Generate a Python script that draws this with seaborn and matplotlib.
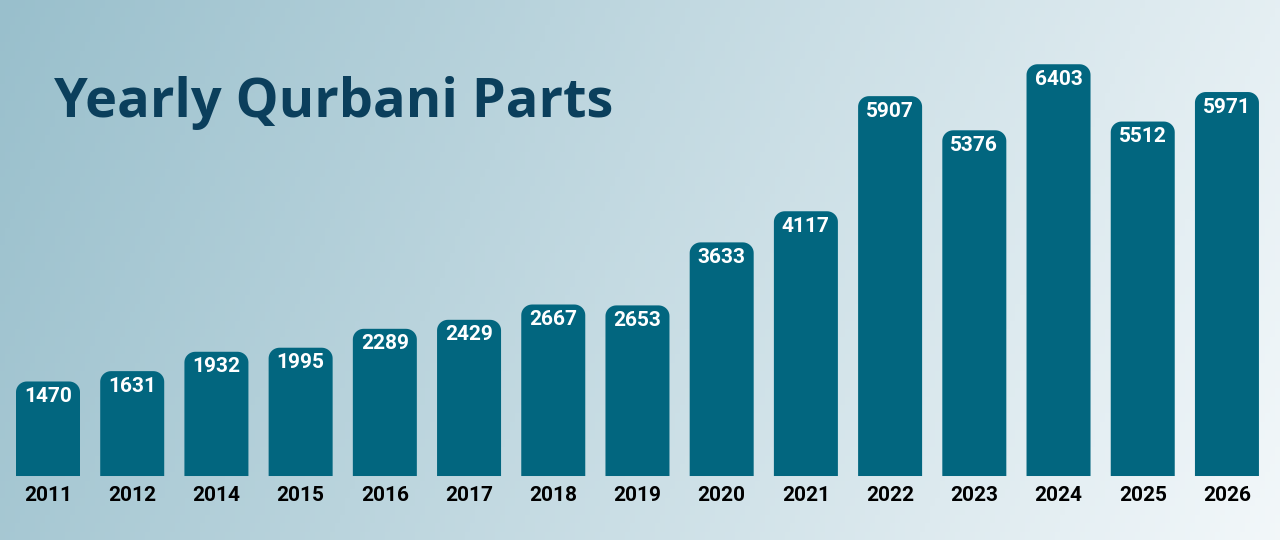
import numpy as np
import pandas as pd
import matplotlib
matplotlib.use('Agg')
import matplotlib.pyplot as plt
import seaborn as sns
from matplotlib.patches import Polygon

# data
years = ['2011', '2012', '2014', '2015', '2016', '2017', '2018', '2019',
         '2020', '2021', '2022', '2023', '2024', '2025', '2026']
parts = [1470, 1631, 1932, 1995, 2289, 2429, 2667, 2653,
         3633, 4117, 5907, 5376, 6403, 5512, 5971]

df = pd.DataFrame({'year': years, 'parts': parts})

sns.set_theme(style='white')
plt.rcParams['font.family'] = ['Roboto', 'DejaVu Sans']

bar_color = '#02667f'
fig = plt.figure(figsize=(12.8, 5.4), dpi=100)
ax = fig.add_axes([0, 0, 1, 1])

# background gradient (left teal-grey -> right near white)
gx = np.linspace(0, 1, 256)
gy = np.linspace(0, 1, 64)
X, Y = np.meshgrid(gx, gy)
t = np.clip(0.85 * X + 0.15 * Y, 0, 1)
left = np.array([0.60, 0.75, 0.80])
right = np.array([0.95, 0.97, 0.98])
img = left[None, None, :] * (1 - t[..., None]) + right[None, None, :] * t[..., None]

xmin, xmax = -0.57, 14.63
ymin, ymax = -995, 7402
ax.imshow(img, extent=[xmin, xmax, ymin, ymax], aspect='auto', origin='upper', zorder=0)

sns.barplot(data=df, x='year', y='parts', color=bar_color, width=0.76,
            saturation=1, ax=ax, zorder=2)


def top_rounded(x0, w, h, rx=0.13, ry=165):
    # outline of a bar with only the top corners rounded
    a = np.linspace(0, np.pi / 2, 12)
    pts = [(x0, 0)]
    pts += list(zip(x0 + rx - rx * np.cos(a), h - ry + ry * np.sin(a)))
    pts += list(zip(x0 + w - rx + rx * np.sin(a), h - ry + ry * np.cos(a)))
    pts.append((x0 + w, 0))
    return pts


for p in list(ax.patches):
    x0, w, h = p.get_x(), p.get_width(), p.get_height()
    p.set_visible(False)
    ax.add_patch(Polygon(top_rounded(x0, w, h), closed=True, fc=bar_color,
                         ec='none', zorder=3))

for i, v in enumerate(parts):
    ax.text(i, v - 235, str(v), ha='center', va='center', color='white',
            fontsize=15, fontweight='bold', zorder=4)
    ax.text(i, -300, years[i], ha='center', va='center', color='black',
            fontsize=15, fontweight='bold', zorder=4)

ax.text(54 / 1280, 1 - 103 / 540, 'Yearly Qurbani Parts', transform=ax.transAxes,
        ha='left', va='center', fontsize=39, fontweight='bold', color='#0b3f5c',
        family=['Open Sans', 'DejaVu Sans'], zorder=4)

ax.set_xlim(xmin, xmax)
ax.set_ylim(ymin, ymax)
ax.set_axis_off()

fig.savefig('out.png', dpi=100)
